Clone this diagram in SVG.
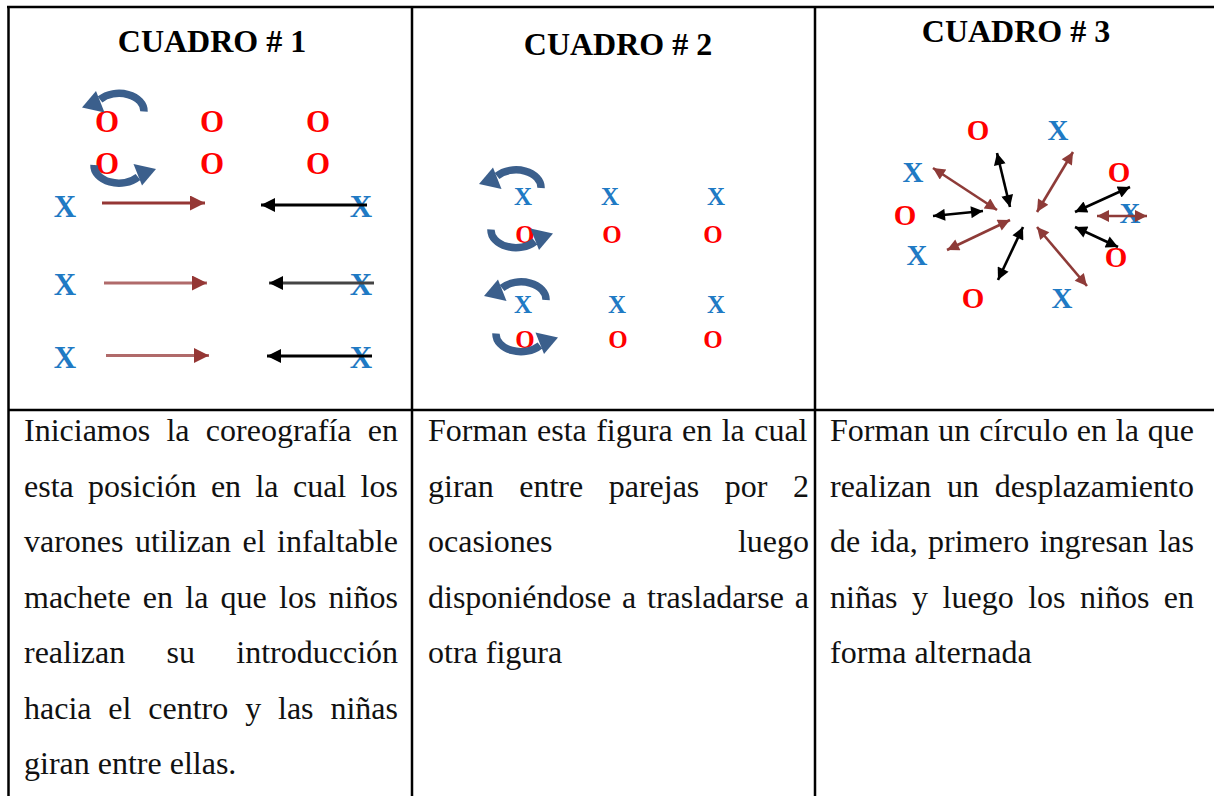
<svg xmlns="http://www.w3.org/2000/svg" width="1214" height="796" viewBox="0 0 1214 796">
<style>
.grid{stroke:#000;stroke-width:2.5;fill:none}
.hdr{font-family:"Liberation Serif","Times New Roman",serif;font-weight:bold;font-size:32px;fill:#000;text-anchor:middle}
.body{font-family:"Liberation Serif","Times New Roman",serif;font-size:32px;fill:#111}
.sym{font-family:"Liberation Serif","Times New Roman",serif;font-weight:bold;text-anchor:middle}
.o{fill:#FF0000}
.x{fill:#1F7AC4}
.s1{font-size:31px}
.s2{font-size:25px}
.s3{font-size:29px}
.br{stroke:#953735;stroke-width:3;fill:none}
.brl{stroke:#B06A6A;stroke-width:3;fill:none}
.bl{stroke:#000;stroke-width:3;fill:none}
.blg{stroke:#444;stroke-width:3;fill:none}
.br3{stroke:#8E3B38;stroke-width:2.6;fill:none;marker-start:url(#m3br);marker-end:url(#m3br)}
.bl3{stroke:#000;stroke-width:2.6;fill:none;marker-start:url(#m3bl);marker-end:url(#m3bl)}
.rot{fill:none;stroke:#3B5F8C;stroke-width:7.5}
.rothead{fill:#3B5F8C}
</style>
<defs>
<marker id="m1br" viewBox="0 0 10 10" refX="10" refY="5" markerWidth="16" markerHeight="15" markerUnits="userSpaceOnUse" orient="auto"><path d="M0,0 L10,5 L0,10 z" fill="#953735"/></marker>
<marker id="m1bl" viewBox="0 0 10 10" refX="10" refY="5" markerWidth="16" markerHeight="14" markerUnits="userSpaceOnUse" orient="auto"><path d="M0,0 L10,5 L0,10 z" fill="#000"/></marker>
<marker id="m3br" viewBox="0 0 10 10" refX="10" refY="5" markerWidth="15" markerHeight="12" markerUnits="userSpaceOnUse" orient="auto-start-reverse"><path d="M0,0 L10,5 L0,10 z" fill="#8E3B38"/></marker>
<marker id="m3bl" viewBox="0 0 10 10" refX="10" refY="5" markerWidth="15" markerHeight="12" markerUnits="userSpaceOnUse" orient="auto-start-reverse"><path d="M0,0 L10,5 L0,10 z" fill="#000"/></marker>
<g id="rotTop">
<path class="rot" d="M25 3 A25 17.5 0 0 0 -19 -9"/>
<polygon class="rothead" points="-37,-1 -23,-17.5 -14.5,4"/>
</g>
</defs>

<g id="table">
<line class="grid" x1="7" y1="7" x2="1214" y2="7"/>
<line class="grid" x1="8.5" y1="6" x2="8.5" y2="796"/>
<line class="grid" x1="412" y1="6" x2="412" y2="796"/>
<line class="grid" x1="815" y1="6" x2="815" y2="796"/>
<line class="grid" x1="8" y1="410" x2="1214" y2="410"/>
</g>

<g id="header1"><text class="hdr" x="212" y="52">CUADRO # 1</text></g>
<g id="header2"><text class="hdr" x="618" y="55">CUADRO # 2</text></g>
<g id="header3"><text class="hdr" x="1016" y="42">CUADRO # 3</text></g>

<!-- Cuadro 1 dancers -->
<g id="c1-o1"><text class="sym s1 o" x="107" y="131.5">O</text></g>
<g id="c1-o2"><text class="sym s1 o" x="212" y="131.5">O</text></g>
<g id="c1-o3"><text class="sym s1 o" x="318" y="131.5">O</text></g>
<g id="c1-o4"><text class="sym s1 o" x="107" y="174">O</text></g>
<g id="c1-o5"><text class="sym s1 o" x="212" y="174">O</text></g>
<g id="c1-o6"><text class="sym s1 o" x="318" y="174">O</text></g>
<g id="c1-x1"><text class="sym s1 x" x="65" y="216.5">X</text></g>
<g id="c1-x2"><text class="sym s1 x" x="65" y="295">X</text></g>
<g id="c1-x3"><text class="sym s1 x" x="65" y="368">X</text></g>
<g id="c1-x4"><text class="sym s1 x" x="361" y="216.5">X</text></g>
<g id="c1-x5"><text class="sym s1 x" x="361" y="295">X</text></g>
<g id="c1-x6"><text class="sym s1 x" x="361" y="368">X</text></g>

<!-- Cuadro 2 dancers -->
<g id="c2-x1"><text class="sym s2 x" x="523" y="205">X</text></g>
<g id="c2-x2"><text class="sym s2 x" x="610" y="205">X</text></g>
<g id="c2-x3"><text class="sym s2 x" x="716" y="205">X</text></g>
<g id="c2-o1"><text class="sym s2 o" x="525" y="242.5">O</text></g>
<g id="c2-o2"><text class="sym s2 o" x="612" y="242.5">O</text></g>
<g id="c2-o3"><text class="sym s2 o" x="713" y="242.5">O</text></g>
<g id="c2-x4"><text class="sym s2 x" x="523" y="313">X</text></g>
<g id="c2-x5"><text class="sym s2 x" x="617" y="313">X</text></g>
<g id="c2-x6"><text class="sym s2 x" x="716" y="313">X</text></g>
<g id="c2-o4"><text class="sym s2 o" x="525" y="347.5">O</text></g>
<g id="c2-o5"><text class="sym s2 o" x="618" y="347.5">O</text></g>
<g id="c2-o6"><text class="sym s2 o" x="713" y="347.5">O</text></g>

<!-- Cuadro 3 dancers -->
<g id="c3-o1"><text class="sym s3 o" x="978" y="140">O</text></g>
<g id="c3-x1"><text class="sym s3 x" x="1058" y="140">X</text></g>
<g id="c3-x2"><text class="sym s3 x" x="913" y="181.5">X</text></g>
<g id="c3-o2"><text class="sym s3 o" x="1119" y="181.5">O</text></g>
<g id="c3-o3"><text class="sym s3 o" x="905" y="225">O</text></g>
<g id="c3-x3"><text class="sym s3 x" x="1130" y="223">X</text></g>
<g id="c3-x4"><text class="sym s3 x" x="917" y="265">X</text></g>
<g id="c3-o4"><text class="sym s3 o" x="1116" y="266.5">O</text></g>
<g id="c3-o5"><text class="sym s3 o" x="973" y="308">O</text></g>
<g id="c3-x5"><text class="sym s3 x" x="1062" y="308">X</text></g>

<g id="connectors">
<!-- Cuadro 1 -->
<line class="br" x1="102" y1="203" x2="205" y2="203" marker-end="url(#m1br)"/>
<line class="bl" x1="367" y1="205" x2="261" y2="205" marker-end="url(#m1bl)"/>
<line class="brl" x1="104" y1="283" x2="207" y2="283" marker-end="url(#m1br)"/>
<line class="blg" x1="374" y1="283" x2="269" y2="283" marker-end="url(#m1bl)"/>
<line class="brl" x1="106" y1="355.5" x2="209" y2="355.5" marker-end="url(#m1br)"/>
<line class="bl" x1="372" y1="356" x2="267" y2="356" marker-end="url(#m1bl)"/>
<use href="#rotTop" transform="translate(119,108.5)"/>
<use href="#rotTop" transform="translate(119,168) rotate(180)"/>
<!-- Cuadro 2 -->
<use href="#rotTop" transform="translate(516,185)"/>
<use href="#rotTop" transform="translate(516,232.5) rotate(180)"/>
<use href="#rotTop" transform="translate(521,297)"/>
<use href="#rotTop" transform="translate(521,336.5) rotate(180)"/>
<!-- Cuadro 3 -->
<line class="br3" x1="933" y1="168" x2="997" y2="210"/>
<line class="bl3" x1="997" y1="153" x2="1010" y2="207"/>
<line class="br3" x1="1073" y1="152" x2="1037" y2="212"/>
<line class="bl3" x1="1130" y1="187" x2="1075" y2="212"/>
<line class="br3" x1="1097" y1="216" x2="1147" y2="216"/>
<line class="bl3" x1="1075" y1="227" x2="1118" y2="247"/>
<line class="br3" x1="1037" y1="227" x2="1087" y2="286"/>
<line class="bl3" x1="1023" y1="227" x2="998" y2="280"/>
<line class="br3" x1="1010" y1="220" x2="947" y2="250"/>
<line class="bl3" x1="933" y1="216" x2="983" y2="211"/>
</g>

<g id="desc1" class="body">
<text x="24" y="441" word-spacing="8.27">Iniciamos la coreografía en</text>
<text x="24" y="496.5" word-spacing="6.36">esta posición en la cual los</text>
<text x="24" y="552" word-spacing="3.5">varones utilizan el infaltable</text>
<text x="24" y="607.5" word-spacing="4.23">machete en la que los niños</text>
<text x="24" y="663" word-spacing="33.3">realizan su introducción</text>
<text x="24" y="718.5" word-spacing="8.86">hacia el centro y las niñas</text>
<text x="24" y="774">giran entre ellas.</text>
</g>
<g id="desc2" class="body">
<text x="428" y="441" word-spacing="1.44">Forman esta figura en la cual</text>
<text x="428" y="496.5" word-spacing="17.5">giran entre parejas por 2</text>
<text x="428" y="552" word-spacing="177.5">ocasiones luego</text>
<text x="428" y="607.5" word-spacing="2.87">disponiéndose a trasladarse a</text>
<text x="428" y="663">otra figura</text>
</g>
<g id="desc3" class="body">
<text x="830" y="441" word-spacing="0.8">Forman un círculo en la que</text>
<text x="830" y="496.5" word-spacing="7.8">realizan un desplazamiento</text>
<text x="830" y="552" word-spacing="2.35">de ida, primero ingresan las</text>
<text x="830" y="607.5" word-spacing="6.5">niñas y luego los niños en</text>
<text x="830" y="663">forma alternada</text>
</g>
</svg>
